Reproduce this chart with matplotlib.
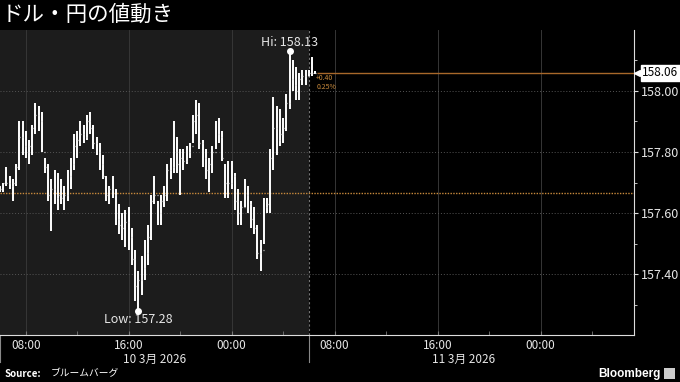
import matplotlib
matplotlib.use("Agg")
import matplotlib.pyplot as plt
import matplotlib.dates as mdates
from matplotlib.transforms import blended_transform_factory
import pandas as pd

plt.rcParams['font.family'] = ['Noto Sans CJK JP', 'DejaVu Sans']

# 15分足 (2026-03-10 06:00 から)
bar_times = pd.date_range('2026-03-10 06:00', periods=99, freq='15min')

highs = [157.69, 157.70, 157.75, 157.72, 157.71, 157.76, 157.90, 157.90, 157.87, 157.84,
         157.89, 157.96, 157.95, 157.93, 157.78, 157.76, 157.71, 157.74, 157.73, 157.71,
         157.69, 157.74, 157.78, 157.86, 157.87, 157.90, 157.89, 157.92, 157.93, 157.89,
         157.85, 157.83, 157.79, 157.72, 157.69, 157.72, 157.68, 157.63, 157.60, 157.61,
         157.62, 157.55, 157.48, 157.41, 157.46, 157.51, 157.56, 157.66, 157.72, 157.64,
         157.66, 157.69, 157.76, 157.78, 157.90, 157.85, 157.81, 157.81, 157.82, 157.83,
         157.92, 157.97, 157.96, 157.84, 157.81, 157.78, 157.82, 157.90, 157.91, 157.87,
         157.76, 157.77, 157.77, 157.73, 157.68, 157.64, 157.71, 157.69, 157.64, 157.62,
         157.56, 157.51, 157.65, 157.65, 157.81, 157.98, 157.95, 157.94, 157.91, 157.99,
         158.13, 158.10, 158.08, 158.06, 158.07, 158.07, 158.07, 158.11, 158.065]
lows = [157.67, 157.67, 157.69, 157.68, 157.64, 157.69, 157.74, 157.79, 157.78, 157.76,
        157.79, 157.86, 157.87, 157.80, 157.73, 157.64, 157.54, 157.63, 157.61, 157.63,
        157.61, 157.64, 157.68, 157.74, 157.78, 157.82, 157.83, 157.84, 157.86, 157.81,
        157.79, 157.74, 157.71, 157.64, 157.63, 157.65, 157.56, 157.53, 157.51, 157.49,
        157.48, 157.43, 157.31, 157.28, 157.33, 157.38, 157.43, 157.51, 157.63, 157.56,
        157.56, 157.62, 157.64, 157.71, 157.73, 157.73, 157.66, 157.74, 157.76, 157.78,
        157.83, 157.86, 157.81, 157.75, 157.71, 157.67, 157.73, 157.81, 157.83, 157.77,
        157.65, 157.65, 157.68, 157.61, 157.56, 157.56, 157.62, 157.60, 157.55, 157.53,
        157.45, 157.41, 157.50, 157.60, 157.60, 157.74, 157.79, 157.82, 157.83, 157.87,
        157.94, 158.00, 157.97, 157.97, 158.02, 158.02, 158.05, 158.05, 158.055]
closes = [157.68, 157.70, 157.70, 157.69, 157.70, 157.75, 157.85, 157.82, 157.80, 157.82,
          157.88, 157.92, 157.90, 157.80, 157.75, 157.66, 157.68, 157.65, 157.66, 157.65,
          157.66, 157.72, 157.76, 157.82, 157.84, 157.86, 157.85, 157.90, 157.88, 157.83,
          157.80, 157.76, 157.72, 157.66, 157.68, 157.66, 157.58, 157.56, 157.55, 157.57,
          157.52, 157.45, 157.36, 157.38, 157.42, 157.47, 157.52, 157.64, 157.66, 157.60,
          157.64, 157.66, 157.74, 157.75, 157.80, 157.76, 157.78, 157.77, 157.80, 157.82,
          157.90, 157.92, 157.83, 157.78, 157.74, 157.76, 157.80, 157.86, 157.85, 157.78,
          157.70, 157.70, 157.72, 157.64, 157.60, 157.62, 157.66, 157.63, 157.58, 157.55,
          157.47, 157.48, 157.62, 157.63, 157.78, 157.88, 157.84, 157.86, 157.88, 157.96,
          158.04, 158.02, 158.00, 158.04, 158.05, 158.05, 158.06, 158.06, 158.06]
first_open = 157.69

prev_close = 157.664
last_price = 158.06
change_txt = '+0.40'
change_pct = '0.25%'
hi_val, low_val = 158.13, 157.28

yticks = [157.40, 157.60, 157.80, 158.00]
date_labels = ['10 3月 2026', '11 3月 2026']

BG = '#000000'
PANEL = '#1c1c1c'
ORANGE = '#c98a3c'
TXT = '#e6e6e6'

fig = plt.figure(figsize=(6.8, 3.82), dpi=100, facecolor=BG)
ax = fig.add_axes([0.0, 0.123, 0.9324, 0.7985])
ax.set_facecolor(BG)

t = mdates.date2num(bar_times.to_pydatetime())
x0 = mdates.date2num(pd.Timestamp('2026-03-10 06:00'))
x_sess = mdates.date2num(pd.Timestamp('2026-03-11 06:00'))
x1 = mdates.date2num(pd.Timestamp('2026-03-12 07:16'))
ax.set_xlim(x0, x1)
ax.set_ylim(157.20, 158.20)

# previous session shading
ax.axvspan(x0, x_sess, color=PANEL, zorder=0, lw=0)
ax.axvline(x_sess, color='#777777', lw=0.8, ls=(0, (2, 2)), zorder=1)

# grid
for v in [mdates.date2num(pd.Timestamp(s)) for s in
          ['2026-03-10 08:00', '2026-03-10 16:00', '2026-03-11 00:00',
           '2026-03-11 08:00', '2026-03-11 16:00', '2026-03-12 00:00']]:
    ax.axvline(v, color='#363636', lw=0.7, zorder=1)
for yv in yticks:
    ax.axhline(yv, color='#555555', lw=0.7, ls=(0, (1, 2)), zorder=1)

# previous close
ax.axhline(prev_close, color=ORANGE, lw=1.0, ls=(0, (1, 1)), zorder=2)

# OHLC bars
opens = [first_open] + closes[:-1]
dt = 3.0 / 1440
ax.vlines(t, lows, highs, color='white', lw=1.4, zorder=3)
ax.hlines(opens, t - dt, t, color='#dddddd', lw=0.9, zorder=3)
ax.hlines(closes, t, t + dt, color='#dddddd', lw=0.9, zorder=3)

# last price line
ax.hlines(last_price, t[-1] + 2 * dt, x1, color='#a8682a', lw=1.0, zorder=2)
ax.text(t[-1] + 1.5 * dt, last_price - 0.016, change_txt, color=ORANGE, fontsize=5,
        va='center', ha='left')
ax.text(t[-1] + 1.5 * dt, last_price - 0.048, change_pct, color=ORANGE, fontsize=5,
        va='center', ha='left')

# hi / low markers
i_hi = highs.index(hi_val)
i_lo = lows.index(low_val)
ax.plot(t[i_hi], hi_val, 'o', color='white', ms=4, zorder=4)
ax.plot(t[i_lo], low_val, 'o', color='white', ms=4, zorder=4)
ax.text(t[i_hi], hi_val + 0.028, f'Hi: {hi_val:.2f}', color=TXT, fontsize=9,
        ha='center', va='center')
ax.text(t[i_lo], low_val - 0.03, f'Low: {low_val:.2f}', color=TXT, fontsize=9,
        ha='center', va='center')

# axes / spines
for s in ['top', 'left']:
    ax.spines[s].set_visible(False)
ax.spines['right'].set_color('#dddddd')
ax.spines['bottom'].set_color('#dddddd')
ax.yaxis.tick_right()
ax.set_yticks(yticks)
ax.set_yticklabels([f'{v:.2f}' for v in yticks])
ax.set_yticks([157.30, 157.50, 157.70, 157.90, 158.10], minor=True)
ax.tick_params(axis='y', which='both', colors='#dddddd', labelcolor=TXT,
               labelsize=9, direction='out', length=3, pad=2)
ax.tick_params(axis='y', which='minor', length=2)

ax.xaxis.set_major_locator(mdates.HourLocator(byhour=[0, 8, 16]))
ax.xaxis.set_minor_locator(mdates.HourLocator(byhour=[4, 12, 20]))
ax.xaxis.set_major_formatter(mdates.DateFormatter('%H:%M'))
ax.tick_params(axis='x', which='both', colors='#777777', labelcolor=TXT,
               labelsize=8.5, direction='in', length=3, pad=3)

# date labels + separators
tr = blended_transform_factory(ax.transData, ax.transAxes)
for lbl, mid in zip(date_labels, ['2026-03-10 18:00', '2026-03-11 18:00']):
    ax.text(mdates.date2num(pd.Timestamp(mid)), -0.08, lbl, transform=tr,
            color=TXT, fontsize=8.5, ha='center', va='center', clip_on=False)
for sep in [x0 + 0.0005, x_sess]:
    ax.plot([sep, sep], [0, -0.09], transform=tr, color='#888888', lw=0.8,
            clip_on=False)

# last price tag
tag_tr = blended_transform_factory(ax.transAxes, ax.transData)
ax.plot(1.005, last_price, marker='<', color='white', ms=5, transform=tag_tr,
        clip_on=False, zorder=5)
ax.annotate(f'{last_price:.2f}', xy=(1.0, last_price), xycoords=tag_tr,
            xytext=(6, 0), textcoords='offset points', color='black', fontsize=8.5,
            va='center', ha='left',
            bbox=dict(boxstyle='square,pad=0.12', fc='white', ec='white'))

# title and footer
fig.text(0.003, 0.962, 'ドル・円の値動き', color='white', fontsize=15.5, ha='left',
         va='center')
fig.text(0.006, 0.022, 'Source:', color='white', fontsize=7, fontweight='bold',
         ha='left', va='center')
fig.text(0.075, 0.022, 'ブルームバーグ', color='white', fontsize=7, ha='left',
         va='center')
fig.text(0.972, 0.022, 'Bloomberg', color='white', fontsize=8.5, fontweight='bold',
         ha='right', va='center', family=['Liberation Sans', 'DejaVu Sans'])
fig.patches.append(plt.Rectangle((0.977, 0.008), 0.016, 0.028, transform=fig.transFigure,
                                 fc='#cccccc', ec='none'))

fig.savefig('out.png', dpi=100, facecolor=BG)
